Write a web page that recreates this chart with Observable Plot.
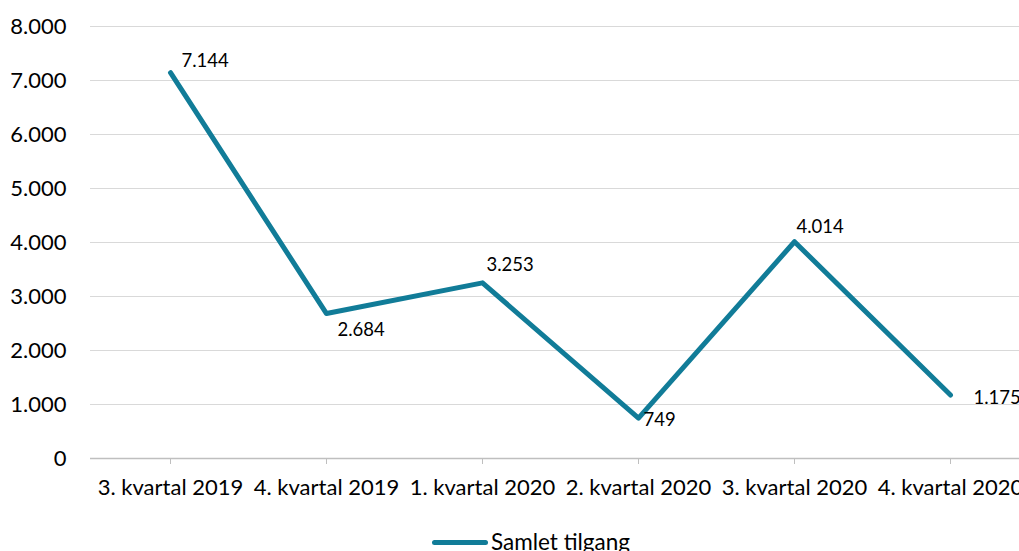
<!DOCTYPE html>
<html>
<head>
<meta charset="utf-8">
<script src="https://cdn.jsdelivr.net/npm/d3@7"></script>
<script src="https://cdn.jsdelivr.net/npm/@observablehq/plot@0.6"></script>
<style>
  html, body { margin: 0; padding: 0; background: #fff; overflow: hidden; width: 1019px; height: 551px; }
  #chart { position: relative; width: 1019px; height: 551px; font-family: Lato, "Open Sans", sans-serif; }
  #legend { position: absolute; left: 432px; top: 527px; height: 30px; display: flex; align-items: center; font-size: 22.5px; line-height: 30px; color: #000; white-space: nowrap; }
  #legend .swatch { width: 56px; height: 5px; border-radius: 3px; background: #117c98; margin-right: 3px; position: relative; top: 0px; }
</style>
</head>
<body>
<div id="chart"></div>
<script>
// ---- data ----
const categories = ["3. kvartal 2019", "4. kvartal 2019", "1. kvartal 2020", "2. kvartal 2020", "3. kvartal 2020", "4. kvartal 2020"];
const values = [7144, 2684, 3253, 749, 4014, 1175];
const yTicks = [0, 1000, 2000, 3000, 4000, 5000, 6000, 7000, 8000];
const seriesName = "Samlet tilgang";

// ---- rendering ----
const da = d3.formatLocale({decimal: ",", thousands: ".", grouping: [3], currency: ["", " kr."]});
const fmt = da.format(",d");
const data = categories.map((c, i) => ({cat: c, value: values[i]}));
const labelDx = [11, 11, 4, 5, 2, 23];
const labelDy = [-12, 17, -18, 2, -15, 3];
const color = "#117c98";

const plot = Plot.plot({
  width: 1019,
  height: 500,
  marginTop: 26,
  marginBottom: 42,
  marginLeft: 90,
  marginRight: 0,
  style: {fontFamily: "Lato, 'Open Sans', sans-serif", background: "#fff", overflow: "visible"},
  x: {type: "point", domain: categories, range: [168, 951], padding: 0},
  y: {domain: [0, 8000]},
  marks: [
    Plot.ruleY(yTicks.filter(d => d > 0), {stroke: "#d9d9d9", strokeWidth: 1}),
    Plot.ruleY([0], {stroke: "#bfbfbf", strokeWidth: 1.3}),
    Plot.axisY({ticks: yTicks, tickFormat: fmt, tickSize: 0, tickPadding: 24, fontSize: 22, color: "#000", label: null}),
    Plot.axisX({tickSize: 6, tickPadding: 15, fontSize: 22, color: "#000", stroke: "#bfbfbf", label: null}),
    Plot.line(data, {x: "cat", y: "value", stroke: color, strokeWidth: 5, strokeLinecap: "round", strokeLinejoin: "round"}),
    ...data.map((d, i) => Plot.text([d], {x: "cat", y: "value", text: e => fmt(e.value), textAnchor: "start", dx: labelDx[i], dy: labelDy[i], fontSize: 18.5, fill: "#000"}))
  ]
});
document.getElementById("chart").appendChild(plot);
const lg = document.createElement("div");
lg.id = "legend";
lg.innerHTML = `<span class="swatch"></span><span>${seriesName}</span>`;
document.getElementById("chart").appendChild(lg);
</script>
</body>
</html>
